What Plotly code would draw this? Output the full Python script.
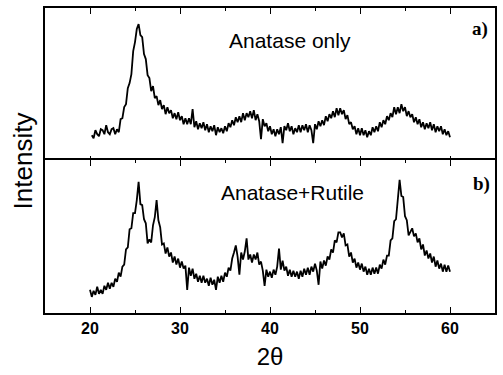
import numpy as np
import plotly.graph_objects as go
from plotly.subplots import make_subplots

# 2-theta scan grids (instrument step 0.2 deg)
two_theta_a = np.round(np.arange(20.2, 60.01, 0.2), 1)
two_theta_b = np.round(np.arange(20.0, 60.01, 0.2), 1)

# a) Anatase only - intensity (a.u.)
intensity_a = [
    26, 23, 31, 27, 25, 32, 31, 27, 36, 29,
    27, 32, 33, 27, 32, 29, 42, 43, 54, 57,
    73, 78, 87, 110, 119, 132, 137, 126, 124, 107,
    102, 86, 83, 70, 75, 63, 65, 56, 61, 52,
    56, 47, 54, 48, 51, 43, 48, 42, 49, 41,
    45, 37, 43, 37, 43, 37, 52, 34, 40, 32,
    38, 33, 39, 31, 37, 29, 35, 30, 36, 26,
    34, 29, 33, 28, 35, 30, 38, 34, 41, 36,
    44, 39, 45, 39, 48, 41, 48, 44, 50, 43,
    51, 41, 47, 40, 22, 42, 35, 38, 30, 35,
    27, 32, 25, 32, 27, 34, 18, 35, 31, 38,
    30, 35, 27, 33, 29, 36, 29, 36, 31, 37,
    29, 36, 31, 18, 37, 32, 40, 35, 41, 36,
    45, 40, 47, 43, 50, 44, 53, 46, 53, 47,
    51, 42, 46, 37, 39, 32, 35, 27, 33, 26,
    33, 26, 31, 24, 30, 26, 34, 29, 35, 30,
    39, 34, 41, 37, 45, 41, 48, 44, 54, 47,
    54, 48, 57, 50, 54, 45, 50, 44, 47, 39,
    44, 37, 42, 34, 39, 32, 38, 33, 39, 31,
    37, 29, 35, 30, 35, 27, 32, 26, 30, 24,
]

# b) Anatase+Rutile - intensity (a.u.)
intensity_b = [
    23, 16, 22, 18, 26, 19, 23, 19, 27, 23,
    30, 24, 30, 26, 34, 31, 40, 36, 46, 48,
    63, 65, 83, 84, 99, 99, 112, 130, 108, 107,
    93, 89, 69, 73, 70, 87, 95, 112, 92, 85,
    68, 69, 59, 65, 56, 60, 50, 56, 48, 54,
    45, 51, 44, 47, 23, 45, 37, 44, 34, 39,
    31, 37, 30, 37, 30, 34, 27, 35, 28, 33,
    23, 36, 30, 37, 31, 40, 36, 45, 42, 54,
    60, 67, 56, 38, 60, 53, 61, 74, 53, 58,
    50, 58, 53, 60, 48, 51, 42, 27, 43, 36,
    41, 35, 43, 38, 46, 64, 43, 52, 42, 46,
    37, 43, 36, 42, 36, 41, 34, 42, 36, 44,
    38, 45, 38, 46, 41, 49, 42, 28, 51, 44,
    52, 47, 56, 53, 63, 60, 72, 70, 80, 80,
    75, 79, 67, 68, 56, 60, 50, 54, 45, 50,
    43, 49, 41, 46, 38, 44, 38, 45, 39, 45,
    39, 48, 44, 53, 48, 57, 57, 72, 74, 91,
    93, 114, 132, 116, 115, 96, 92, 77, 80, 84,
    76, 79, 70, 74, 63, 68, 57, 62, 54, 59,
    50, 56, 46, 52, 44, 49, 41, 48, 41, 47,
    41,
]

x_ticks = [20, 30, 40, 50, 60]
x_tick_labels = ["20", "30", "40", "50", "60"]
panel_labels = ["Anatase only", "Anatase+Rutile"]
panel_tags = ["a)", "b)"]

fig = make_subplots(rows=2, cols=1, shared_xaxes=True, vertical_spacing=0)

fig.add_trace(go.Scatter(x=two_theta_a, y=intensity_a, mode="lines",
                         line=dict(color="black", width=1.8), showlegend=False), row=1, col=1)
fig.add_trace(go.Scatter(x=two_theta_b, y=intensity_b, mode="lines",
                         line=dict(color="black", width=1.8), showlegend=False), row=2, col=1)

xcommon = dict(range=[15, 65], tickvals=x_ticks, ticktext=x_tick_labels,
               ticks="inside", ticklen=6, tickwidth=1.3, tickcolor="black",
               minor=dict(ticks="inside", ticklen=3, tickwidth=1, tickcolor="black", dtick=5, tick0=0),
               showline=True, linecolor="black", linewidth=1.5, mirror="ticks",
               showgrid=False, zeroline=False)
fig.update_xaxes(**xcommon)
fig.update_xaxes(showticklabels=False, row=1, col=1)
fig.update_xaxes(showticklabels=True, tickfont=dict(family="Liberation Sans", size=16, color="black", weight="bold"),
                 title=dict(text="2θ", font=dict(family="Liberation Sans", size=24, color="black"), standoff=12),
                 row=2, col=1)

ycommon = dict(showline=True, linecolor="black", linewidth=1.5, mirror=True,
               showticklabels=False, ticks="", showgrid=False, zeroline=False)
# tiny overlap so the shared middle border is drawn as a single line
half = 0.75 / 305
fig.update_yaxes(range=[0, 153], domain=[0.5 - half, 1], **ycommon, row=1, col=1)
fig.update_yaxes(range=[0, 152], domain=[0, 0.5 + half], **ycommon, row=2, col=1)

fig.add_annotation(text="Intensity", xref="paper", yref="paper", x=-0.049, y=0.5,
                   textangle=-90, showarrow=False, xanchor="center", yanchor="middle",
                   font=dict(family="Liberation Sans", size=26, color="black"))

fig.add_annotation(text=panel_labels[0], xref="x", yref="y", x=42.2, y=121,
                   showarrow=False, font=dict(family="Liberation Sans", size=21, color="black"))
fig.add_annotation(text=panel_labels[1], xref="x2", yref="y2", x=42.5, y=120,
                   showarrow=False, font=dict(family="Liberation Sans", size=21, color="black"))
fig.add_annotation(text="<b>" + panel_tags[0] + "</b>", xref="x", yref="y", x=63.3, y=132,
                   showarrow=False, font=dict(family="Liberation Serif", size=19, color="black"))
fig.add_annotation(text="<b>" + panel_tags[1] + "</b>", xref="x2", yref="y2", x=63.5, y=128,
                   showarrow=False, font=dict(family="Liberation Serif", size=19, color="black"))

fig.update_layout(width=503, height=375, margin=dict(l=45, r=6, t=8, b=62),
                  paper_bgcolor="white", plot_bgcolor="white")

fig.write_html("out.html")
